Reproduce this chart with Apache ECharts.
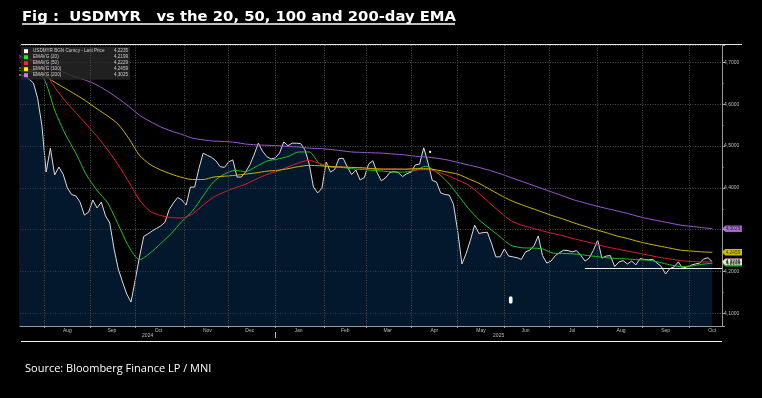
<!DOCTYPE html>
<html>
<head>
<meta charset="utf-8">
<title>USDMYR vs EMA</title>
<script src="https://cdn.jsdelivr.net/npm/echarts@6/dist/echarts.min.js"></script>
<style>
  html, body { margin: 0; padding: 0; background: #000; }
  #chart { width: 762px; height: 398px; }
</style>
</head>
<body>
<div id="chart"></div>
<script>
// x axis runs in trading days (weekdays) counted from this day
const BASE_DAY = '2024-08-01';

// last price, sampled every 2 trading days
const priceStart = '2024-07-15';
const priceStep = 2;
const price = [
  4.672, 4.670, 4.668, 4.660, 4.651, 4.614, 4.549, 4.438, 4.495, 4.431,
  4.450, 4.433, 4.400, 4.384, 4.381, 4.366, 4.335, 4.342, 4.371, 4.352,
  4.366, 4.333, 4.316, 4.254, 4.206, 4.175, 4.146, 4.127, 4.180, 4.235,
  4.284, 4.290, 4.297, 4.303, 4.309, 4.318, 4.348, 4.364, 4.377, 4.371,
  4.359, 4.402, 4.402, 4.446, 4.483, 4.478, 4.473, 4.465, 4.451, 4.449,
  4.462, 4.467, 4.426, 4.426, 4.438, 4.455, 4.479, 4.507, 4.488, 4.475,
  4.469, 4.472, 4.483, 4.510, 4.501, 4.507, 4.507, 4.506, 4.491, 4.457,
  4.402, 4.388, 4.399, 4.462, 4.438, 4.444, 4.470, 4.471, 4.450, 4.432,
  4.443, 4.419, 4.425, 4.457, 4.465, 4.437, 4.417, 4.424, 4.437, 4.439,
  4.437, 4.427, 4.434, 4.438, 4.455, 4.457, 4.496, 4.460, 4.418, 4.414,
  4.388, 4.384, 4.383, 4.361, 4.297, 4.218, 4.243, 4.275, 4.311, 4.291,
  4.293, 4.294, 4.266, 4.235, 4.235, 4.254, 4.237, 4.235, 4.233, 4.229,
  4.247, 4.251, 4.262, 4.285, 4.238, 4.220, 4.225, 4.238, 4.245, 4.251,
  4.250, 4.247, 4.250, 4.239, 4.225, 4.232, 4.251, 4.275, 4.232, 4.237,
  4.238, 4.212, 4.223, 4.226, 4.218, 4.225, 4.216, 4.231, 4.229, 4.228,
  4.229, 4.220, 4.212, 4.194, 4.207, 4.211, 4.223, 4.208, 4.211, 4.215,
  4.218, 4.220, 4.230, 4.233, 4.2235
];

// moving averages, sampled every 5 trading days
const emaStart = '2024-07-11';
const emaStep = 5;
const ema20 = [
  4.682, 4.680, 4.676, 4.661, 4.586, 4.529, 4.483, 4.431, 4.394, 4.364,
  4.312, 4.259, 4.228, 4.244, 4.267, 4.291, 4.320, 4.345, 4.381, 4.415,
  4.433, 4.442, 4.439, 4.451, 4.464, 4.469, 4.475, 4.486, 4.486, 4.457,
  4.450, 4.449, 4.446, 4.444, 4.442, 4.440, 4.438, 4.438, 4.442, 4.452,
  4.438, 4.415, 4.384, 4.351, 4.324, 4.303, 4.283, 4.263, 4.257, 4.256,
  4.254, 4.244, 4.243, 4.242, 4.239, 4.236, 4.233, 4.231, 4.230, 4.228,
  4.227, 4.222, 4.216, 4.212, 4.213, 4.217, 4.2199
];
const ema50 = [
  4.713, 4.710, 4.702, 4.680, 4.641, 4.608, 4.580, 4.552, 4.523, 4.491,
  4.455, 4.414, 4.371, 4.344, 4.334, 4.329, 4.328, 4.338, 4.359, 4.378,
  4.390, 4.400, 4.409, 4.421, 4.432, 4.440, 4.450, 4.460, 4.466, 4.458,
  4.452, 4.450, 4.449, 4.448, 4.446, 4.445, 4.445, 4.444, 4.443, 4.444,
  4.439, 4.430, 4.419, 4.407, 4.387, 4.364, 4.342, 4.322, 4.311, 4.304,
  4.297, 4.291, 4.285, 4.278, 4.272, 4.266, 4.259, 4.254, 4.249, 4.244,
  4.239, 4.234, 4.230, 4.226, 4.224, 4.223, 4.2229
];
const ema100 = [
  4.689, 4.686, 4.681, 4.670, 4.653, 4.638, 4.623, 4.607, 4.589, 4.572,
  4.552, 4.518, 4.478, 4.456, 4.443, 4.433, 4.425, 4.420, 4.420, 4.426,
  4.428, 4.430, 4.433, 4.436, 4.440, 4.442, 4.446, 4.451, 4.454, 4.453,
  4.451, 4.450, 4.449, 4.448, 4.446, 4.445, 4.445, 4.445, 4.446, 4.446,
  4.443, 4.438, 4.433, 4.422, 4.411, 4.397, 4.383, 4.370, 4.360, 4.351,
  4.342, 4.333, 4.325, 4.316, 4.308, 4.300, 4.293, 4.285, 4.279, 4.272,
  4.266, 4.261, 4.256, 4.251, 4.249, 4.247, 4.2459
];
const ema200 = [
  4.723, 4.713, 4.705, 4.696, 4.686, 4.675, 4.665, 4.657, 4.646, 4.631,
  4.614, 4.595, 4.574, 4.559, 4.546, 4.536, 4.528, 4.519, 4.515, 4.512,
  4.511, 4.509, 4.505, 4.503, 4.502, 4.501, 4.499, 4.498, 4.495, 4.494,
  4.492, 4.489, 4.486, 4.485, 4.484, 4.483, 4.481, 4.479, 4.476, 4.474,
  4.471, 4.467, 4.461, 4.455, 4.449, 4.442, 4.434, 4.425, 4.416, 4.407,
  4.398, 4.389, 4.380, 4.371, 4.364, 4.357, 4.351, 4.345, 4.339, 4.332,
  4.326, 4.321, 4.316, 4.311, 4.308, 4.305, 4.3025
];

// horizontal support line drawn on the chart
const supportLevel = 4.207;
const supportFrom = '2025-07-24';
// stray marks on the screenshot
const strayDot = ['2025-04-14', 4.486];
const strayBlob = ['2025-06-05', 4.132];

const monthNames = ['Aug', 'Sep', 'Oct', 'Nov', 'Dec', 'Jan', 'Feb', 'Mar', 'Apr', 'May', 'Jun', 'Jul', 'Aug', 'Sep', 'Oct'];
const monthFirstDays = ['2024-08-01', '2024-09-01', '2024-10-01', '2024-11-01', '2024-12-01', '2025-01-01', '2025-02-01',
  '2025-03-01', '2025-04-01', '2025-05-01', '2025-06-01', '2025-07-01', '2025-08-01', '2025-09-01', '2025-10-01'];
const yearNames = ['2024', '2025'];
const yearFirstDays = ['2024-01-01', '2025-01-01'];

const seriesNames = ['USDMYR BGN Curncy - Last Price', 'EMAVG (20)', 'EMAVG (50)', 'EMAVG (100)', 'EMAVG (200)'];
const lineColors = ['#dcdcdc', '#1fc41f', '#dc1f2d', '#cdb800', '#9f58d2'];
const keyColors = ['#ffffff', '#19f019', '#ff2236', '#ffee00', '#c879ff'];

function bizIndex(s) {
  const d0 = new Date(BASE_DAY + 'T00:00:00Z');
  const d1 = new Date(s + 'T00:00:00Z');
  const sign = d1 >= d0 ? 1 : -1;
  const a = sign > 0 ? d0 : d1, b = sign > 0 ? d1 : d0;
  let n = 0;
  for (let t = new Date(a); t < b; t.setUTCDate(t.getUTCDate() + 1)) {
    const w = t.getUTCDay();
    if (w !== 0 && w !== 6) n++;
  }
  return sign * n;
}

function toPairs(startDay, step, values) {
  const k0 = bizIndex(startDay);
  return values.map((v, i) => [k0 + i * step, v]);
}

const fmt = v => v.toFixed(4).replace('.', ',');
const keyOf = v => Math.round(v * 100);

// visible window of the axis
const X_MIN = bizIndex('2024-07-16') + 0.67;
const X_MAX = bizIndex('2025-10-23') - 0.4;

const monthTicks = monthFirstDays.map(bizIndex);
const labelMap = {};
const monthLabelPos = monthFirstDays.map((d, i) => {
  const k = bizIndex(d.slice(0, 8) + '16');
  labelMap[keyOf(k)] = monthNames[i];
  return k;
});
const yearLabelPos = yearFirstDays.map((d, i) => {
  const from = Math.max(X_MIN, bizIndex(d));
  const next = (parseInt(d.slice(0, 4)) + 1) + '-01-01';
  const to = Math.min(X_MAX, bizIndex(next));
  const k = (from + to) / 2;
  labelMap['y' + keyOf(k)] = yearNames[i];
  return k;
});
const yearTicks = yearFirstDays.slice(1).map(bizIndex);

const lines = [price, ema20, ema50, ema100, ema200];
const lastValue = {};
seriesNames.forEach((n, i) => { lastValue[n] = lines[i][lines[i].length - 1]; });

const chart = echarts.init(document.getElementById('chart'), null, { renderer: 'canvas' });

const gridLine = { color: '#4e4e4e', width: 1, type: [1, 1.5] };
const axisGray = '#9a9a9a';
const labelGray = '#bdbdbd';

const emaSeries = [ema20, ema50, ema100, ema200].map((arr, i) => ({
  name: seriesNames[i + 1],
  type: 'line',
  data: toPairs(emaStart, emaStep, arr),
  symbol: 'none',
  smooth: 0.25,
  color: lineColors[i + 1],
  lineStyle: { color: lineColors[i + 1], width: 1 },
  z: 3
}));

// value tags on the right axis, white one drawn last (on top)
const tagOrder = [4, 3, 2, 1, 0];
const tagData = tagOrder.map(i => ({
  value: [X_MAX, lastValue[seriesNames[i]]],
  itemStyle: { color: keyColors[i] }
}));

const option = {
  backgroundColor: '#000',
  animation: false,
  title: [{
    text: 'Fig :  USDMYR   vs the 20, 50, 100 and 200-day EMA',
    left: 22, top: 9.5, padding: 0,
    textStyle: { color: '#fff', fontSize: 14.8, fontWeight: 'bold', fontFamily: 'DejaVu Sans' }
  }, {
    text: 'Source: Bloomberg Finance LP / MNI',
    left: 25, top: 363, padding: 0,
    textStyle: { color: '#fff', fontSize: 11, fontWeight: 'normal', fontFamily: 'Open Sans' }
  }],
  legend: {
    orient: 'vertical', left: 21, top: 46.7,
    padding: [2, 2, 2, 3],
    backgroundColor: 'rgba(40,40,40,0.8)',
    itemWidth: 4, itemHeight: 4, itemGap: 1,
    icon: 'rect',
    selectedMode: false,
    data: seriesNames.map((n, i) => ({ name: n, itemStyle: { color: keyColors[i] } })),
    formatter: name => '{n|' + name + '}{v|' + fmt(lastValue[name]) + '}',
    textStyle: {
      color: '#d0d0d0', fontSize: 4.6, lineHeight: 5, fontFamily: 'Liberation Sans',
      rich: {
        n: { width: 74, fontSize: 4.6, lineHeight: 5, color: '#d0d0d0', fontFamily: 'Liberation Sans' },
        v: { width: 21, align: 'right', fontSize: 4.6, lineHeight: 5, color: '#d0d0d0', fontFamily: 'Liberation Sans' }
      }
    }
  },
  grid: { left: 20, right: 40, top: 45, bottom: 72, containLabel: false },
  xAxis: [{
    type: 'value', min: X_MIN, max: X_MAX,
    axisLine: { show: true, onZero: false, lineStyle: { color: axisGray, width: 1 } },
    axisTick: { show: true, customValues: monthTicks, length: 2, lineStyle: { color: axisGray } },
    axisLabel: {
      customValues: monthLabelPos, margin: 2,
      color: labelGray, fontSize: 5, fontFamily: 'Liberation Sans',
      formatter: v => labelMap[keyOf(v)] || ''
    },
    splitLine: { show: false }
  }, {
    type: 'value', min: X_MIN, max: X_MAX, position: 'bottom', offset: 6,
    axisLine: { show: false, onZero: false },
    axisTick: { show: true, customValues: yearTicks, length: 6, lineStyle: { color: labelGray } },
    axisLabel: {
      customValues: yearLabelPos, margin: 1,
      color: labelGray, fontSize: 5, fontFamily: 'Liberation Sans',
      formatter: v => labelMap['y' + keyOf(v)] || ''
    },
    splitLine: { show: false }
  }],
  yAxis: {
    type: 'value', position: 'right', min: 4.0696, max: 4.7419, splitNumber: 7,
    axisLine: { show: true, onZero: false, lineStyle: { color: axisGray, width: 1 } },
    axisTick: { show: true, length: 3, lineStyle: { color: axisGray } },
    minorTick: { show: true, splitNumber: 2, length: 1.5, lineStyle: { color: axisGray } },
    axisLabel: {
      color: labelGray, fontSize: 5, margin: 2, fontFamily: 'Liberation Sans',
      formatter: v => Math.abs(v * 10 - Math.round(v * 10)) < 1e-6 ? fmt(v) : ''
    },
    splitLine: { show: true, lineStyle: gridLine }
  },
  series: [{
    // month gridlines, below the price area
    name: 'monthGrid',
    type: 'line',
    data: [],
    z: 1,
    silent: true,
    markLine: {
      silent: true, symbol: 'none',
      label: { show: false },
      lineStyle: gridLine,
      data: monthTicks.map(k => ({ xAxis: k }))
    }
  }, {
    name: seriesNames[0],
    type: 'line',
    data: toPairs(priceStart, priceStep, price),
    symbol: 'none',
    color: lineColors[0],
    lineStyle: { color: lineColors[0], width: 1 },
    areaStyle: { color: 'rgba(6,46,92,0.7)', origin: 'start' },
    z: 2,
    markLine: {
      silent: true, symbol: 'none',
      label: { show: false },
      lineStyle: { color: '#f0f0f0', width: 1, type: 'solid' },
      data: [[{ coord: [bizIndex(supportFrom), supportLevel] }, { coord: [X_MAX, supportLevel] }]]
    },
    markPoint: {
      silent: true,
      label: { show: false },
      data: [
        { coord: [bizIndex(strayDot[0]), strayDot[1]], symbol: 'circle', symbolSize: 2.2, itemStyle: { color: '#fff' } },
        { coord: [bizIndex(strayBlob[0]), strayBlob[1]], symbol: 'roundRect', symbolSize: [3.6, 7], itemStyle: { color: '#fff' } }
      ]
    }
  }].concat(emaSeries).concat([{
    name: 'tags',
    type: 'scatter',
    clip: false,
    silent: true,
    symbol: 'path://M0,5L4,0L24,0L24,10L4,10Z',
    symbolSize: [20, 6.5],
    symbolOffset: [10, 0],
    z: 10,
    data: tagData,
    label: {
      show: true, position: 'inside', offset: [1, 0.3],
      color: '#111', fontSize: 4.8, fontFamily: 'Liberation Sans',
      formatter: p => fmt(p.value[1])
    }
  }]),
  graphic: [
    { type: 'line', shape: { x1: 22, y1: 24, x2: 455, y2: 24 }, style: { stroke: '#fff', lineWidth: 1.3 } },
    { type: 'line', shape: { x1: 21, y1: 44.5, x2: 742, y2: 44.5 }, style: { stroke: '#e8e8e8', lineWidth: 1 } },
    { type: 'line', shape: { x1: 21, y1: 341.5, x2: 722, y2: 341.5 }, style: { stroke: '#f0f0f0', lineWidth: 1.2 } }
  ]
};

chart.setOption(option);
</script>
</body>
</html>
